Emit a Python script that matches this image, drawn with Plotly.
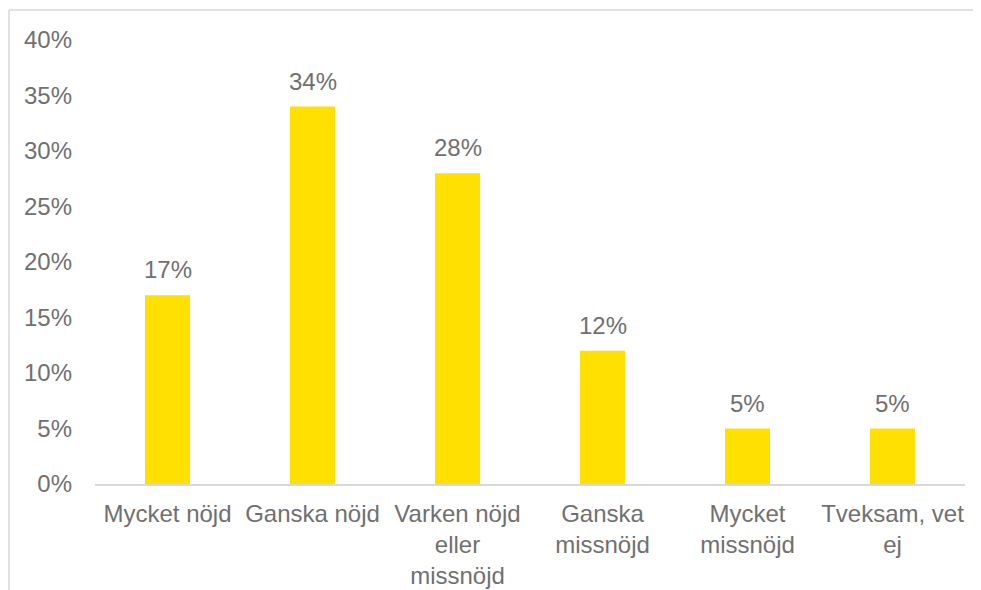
import plotly.graph_objects as go

categories = ["Mycket nöjd", "Ganska nöjd", "Varken nöjd<br>eller<br>missnöjd",
              "Ganska<br>missnöjd", "Mycket<br>missnöjd", "Tveksam, vet<br>ej"]
values = [17, 34, 28, 12, 5, 5]
value_labels = ["17%", "34%", "28%", "12%", "5%", "5%"]
y_ticks = [0, 5, 10, 15, 20, 25, 30, 35, 40]
y_tick_labels = ["0%", "5%", "10%", "15%", "20%", "25%", "30%", "35%", "40%"]

TEXT = "#707070"
FONT = "Liberation Sans, Arial, sans-serif"
FS = 24

fig = go.Figure()
fig.add_trace(go.Bar(x=categories, y=values, marker=dict(color="#FFE000", line=dict(width=0)),
                     hoverinfo="skip"))

for c, v, t in zip(categories, values, value_labels):
    fig.add_annotation(x=c, y=v, text=t, showarrow=False, yanchor="bottom", yshift=10,
                       font=dict(family=FONT, size=FS, color=TEXT))

# page body has an 8px margin; figure sized to fit window
OFF = 8
W, H = 981 - OFF, 590 - OFF
L, R, T, B = 95 - OFF, 16, 40 - OFF, 106
pw, ph = W - L - R, H - T - B

def px(x):
    return (x - OFF - L) / pw

def py(y):
    return (H - B - (y - OFF)) / ph

# outer chart border (top and left visible)
fig.add_shape(type="line", xref="paper", yref="paper", x0=px(9), x1=px(990), y0=py(10), y1=py(10),
              line=dict(color="#d9d9d9", width=1.5))
fig.add_shape(type="line", xref="paper", yref="paper", x0=px(9), x1=px(9), y0=py(10), y1=py(600),
              line=dict(color="#d9d9d9", width=1.5))

fig.update_layout(
    width=W, height=H,
    margin=dict(l=L, r=R, t=T, b=B, autoexpand=False),
    paper_bgcolor="white", plot_bgcolor="white",
    bargap=0.69,
    showlegend=False,
    font=dict(family=FONT, size=FS, color=TEXT),
    xaxis=dict(showgrid=False, showline=True, linecolor="#d9d9d9", linewidth=1.5,
               ticks="", tickfont=dict(family=FONT, size=FS, color=TEXT), ticklabelstandoff=7,
               tickangle=0, automargin=False),
    yaxis=dict(range=[0, 40], tickvals=y_ticks, ticktext=y_tick_labels, showgrid=False,
               zeroline=False, showline=False, ticks="", automargin=False,
               tickfont=dict(family=FONT, size=FS, color=TEXT), ticklabelstandoff=22),
)

fig.write_html("out.html")
